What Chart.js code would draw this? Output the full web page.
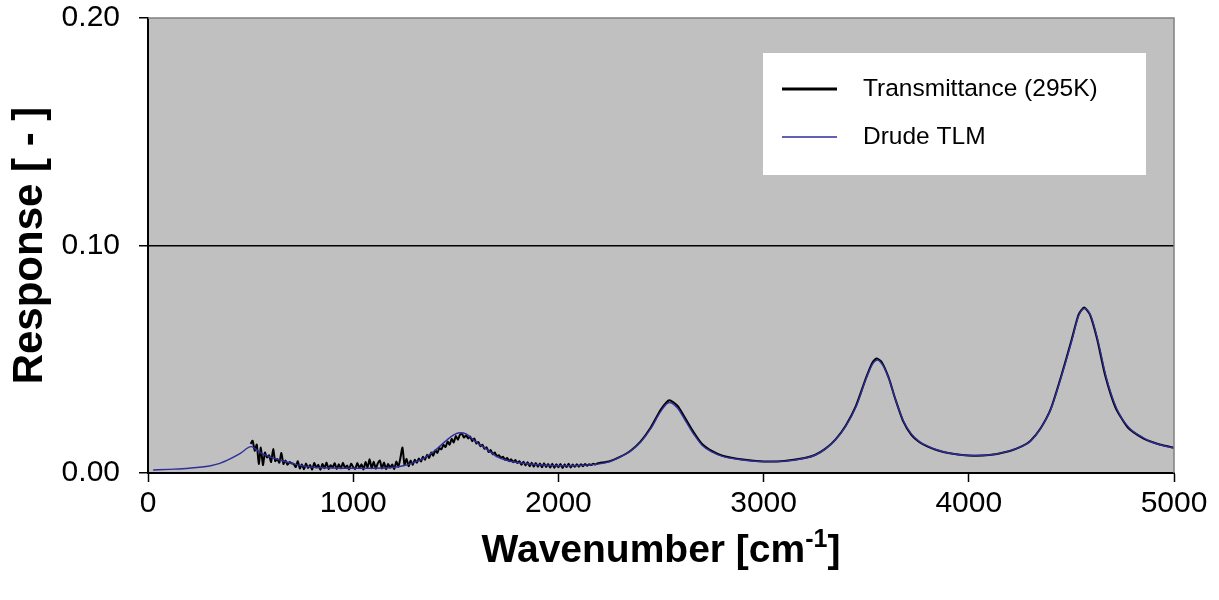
<!DOCTYPE html>
<html>
<head>
<meta charset="utf-8">
<script src="https://cdn.jsdelivr.net/npm/chart.js@4.4.1/dist/chart.umd.min.js"></script>
<style>
  html, body { margin: 0; padding: 0; background: #ffffff; }
  #wrap { width: 1219px; height: 600px; }
</style>
</head>
<body>
<div id="wrap"><canvas id="chart" width="1219" height="600"></canvas></div>
<script>
// Drude TLM fit (smooth)
const drudeWave = [25,100,200,300,350,400,450,502,550,600,
  650,700,750,800,850,900,1000,1100,1200,1250,
  1300,1350,1400,1450,1490,1520,1550,1600,1650,1700,
  1750,1800,1900,2000,2100,2200,2250,2300,2350,2400,
  2450,2500,2540,2580,2620,2660,2700,2750,2800,2900,
  3000,3100,3200,3250,3300,3350,3400,3450,3500,3530,
  3555,3580,3610,3640,3680,3720,3760,3800,3850,3900,
  4000,4100,4200,4260,4300,4350,4400,4450,4500,4535,
  4565,4595,4630,4670,4720,4780,4850,4900,4950,5000];
const drudeValue = [0.0013,0.0016,0.0021,0.0031,0.0042,0.0062,0.0086,0.0116,0.0088,0.0069,
  0.0055,0.0043,0.0032,0.0026,0.0023,0.0022,0.0021,0.0021,0.0025,0.0033,
  0.0048,0.0068,0.0100,0.0140,0.0168,0.0177,0.0172,0.0135,0.0105,0.0072,
  0.0055,0.0046,0.0036,0.0032,0.0033,0.0040,0.0050,0.0070,0.0095,0.0135,
  0.0195,0.0272,0.0310,0.0286,0.0228,0.0170,0.0122,0.0092,0.0073,0.0057,
  0.0050,0.0052,0.0065,0.0078,0.0105,0.0145,0.0205,0.0290,0.0415,0.0478,
  0.0497,0.0475,0.0415,0.0330,0.0232,0.0172,0.0138,0.0118,0.0100,0.0088,
  0.0077,0.0079,0.0097,0.0118,0.0140,0.0195,0.0280,0.0420,0.0575,0.0690,
  0.0723,0.0690,0.0580,0.0420,0.0285,0.0200,0.0155,0.0133,0.0120,0.0110];

// measured transmittance (295K), noisy below ~2200
const transWave = [500,510,520,530,540,550,560,570,580,590,600,610,620,630,640,650,660,670,680,690,700,
  710,720,730,740,750,760,770,780,790,800,810,820,830,840,850,860,870,880,890,900,
  910,920,930,940,950,960,970,980,990,1000,
  1010,1020,1030,1040,1050,1060,1070,1080,1090,1100,1110,1120,1130,1140,1150,1160,1170,1180,1190,1200,
  1210,1220,1230,1240,1250,1260,1270,1280,1290,1300,
  1310,1320,1330,1340,1350,1360,1370,1380,1390,1400,1410,1420,1430,1440,1450,1460,1470,1480,1490,1500,
  1510,1520,1530,1540,1550,
  1560,1570,1580,1590,1600,1610,1620,1630,1640,1650,1660,1670,1680,1690,1700,1710,1720,1730,1740,1750,
  1760,1770,1780,1790,1800,
  1810,1820,1830,1840,1850,1860,1870,1880,1890,1900,1910,1920,1930,1940,1950,1960,1970,1980,1990,2000,
  2010,2020,2030,2040,2050,2060,2070,2080,2090,2100,2110,2120,2130,2140,2150,2160,2170,2180,2190,2200,
  2250,2300,2350,2400,2450,2500,2540,2580,2620,2660,2700,2750,2800,
  2900,3000,3100,3200,3250,3300,3350,3400,3450,3500,
  3530,3550,3575,3610,3640,3680,3720,3760,3800,3850,3900,
  4000,4100,4200,4260,4300,4350,4400,4450,4500,
  4535,4562,4590,4625,4665,4715,4775,4850,4900,4950,5000];
const transValue = [0.0128,0.0142,0.0098,0.0125,0.0040,0.0112,0.0035,0.0090,0.0068,0.0078,0.0048,0.0105,0.0052,0.0062,0.0045,0.0088,0.0040,0.0055,0.0036,0.0048,0.0042,
  0.0040,0.0026,0.0052,0.0020,0.0038,0.0016,0.0042,0.0022,0.0035,0.0015,0.0044,0.0024,0.0036,0.0014,0.0040,0.0021,0.0046,0.0018,0.0034,0.0025,
  0.0043,0.0017,0.0038,0.0020,0.0045,0.0023,0.0033,0.0016,0.0041,0.0026,
  0.0018,0.0044,0.0022,0.0039,0.0016,0.0048,0.0025,0.0060,0.0021,0.0050,0.0019,0.0043,0.0055,0.0020,0.0046,0.0017,0.0040,0.0023,0.0037,0.0018,
  0.0050,0.0028,0.0066,0.0112,0.0036,0.0062,0.0030,0.0055,0.0035,0.0058,
  0.0045,0.0064,0.0050,0.0072,0.0058,0.0080,0.0066,0.0090,0.0076,0.0100,0.0088,0.0110,0.0104,0.0124,0.0114,0.0138,0.0124,0.0150,0.0134,0.0162,
  0.0146,0.0168,0.0172,0.0156,0.0166,
  0.0152,0.0160,0.0140,0.0152,0.0130,0.0136,0.0118,0.0124,0.0106,0.0113,0.0092,0.0101,0.0082,0.0090,0.0074,0.0078,0.0066,0.0072,0.0058,0.0066,
  0.0052,0.0060,0.0047,0.0057,0.0044,
  0.0052,0.0036,0.0050,0.0033,0.0047,0.0030,0.0045,0.0028,0.0044,0.0027,0.0042,0.0025,0.0043,0.0026,0.0040,0.0024,0.0041,0.0023,0.0039,0.0025,
  0.0040,0.0022,0.0038,0.0026,0.0041,0.0024,0.0037,0.0027,0.0039,0.0028,0.0038,0.0030,0.0040,0.0032,0.0039,0.0035,0.0041,0.0037,0.0042,0.0044,
  0.0052,0.0071,0.0097,0.0138,0.0200,0.0280,0.0320,0.0296,0.0238,0.0178,0.0128,0.0096,0.0076,
  0.0059,0.0051,0.0053,0.0066,0.0079,0.0106,0.0147,0.0208,0.0295,0.0420,
  0.0485,0.0503,0.0488,0.0418,0.0330,0.0228,0.0168,0.0135,0.0116,0.0099,0.0088,
  0.0077,0.0079,0.0097,0.0118,0.0141,0.0197,0.0283,0.0425,0.0582,
  0.0696,0.0728,0.0697,0.0590,0.0428,0.0288,0.0200,0.0152,0.0134,0.0121,0.0111];

const xTicks = [0, 1000, 2000, 3000, 4000, 5000];
const yTicks = [0, 0.10, 0.20];
const seriesLabels = ['Transmittance (295K)', 'Drude TLM'];

const FONT = '"Liberation Sans", Arial, sans-serif';
const toPoints = (xs, ys) => xs.map((x, i) => ({ x: x, y: ys[i] }));

// plot background, grey frame, legend box and x title with superscript
const decor = {
  id: 'decor',
  beforeDraw(chart) {
    const a = chart.chartArea, ctx = chart.ctx;
    ctx.save();
    ctx.fillStyle = '#c0c0c0';
    ctx.fillRect(a.left, a.top, a.right - a.left, a.bottom - a.top);
    ctx.restore();
  },
  afterDraw(chart) {
    const a = chart.chartArea, ctx = chart.ctx;
    ctx.save();
    // top / right frame
    ctx.strokeStyle = '#808080';
    ctx.lineWidth = 1.5;
    ctx.beginPath();
    ctx.moveTo(a.left, a.top);
    ctx.lineTo(a.right, a.top);
    ctx.lineTo(a.right, a.bottom);
    ctx.stroke();

    // legend
    const lx = a.left + 615, ly = a.top + 35;
    ctx.fillStyle = '#ffffff';
    ctx.fillRect(lx, ly, 383, 122);
    const ds = chart.data.datasets;
    const rows = [ly + 36, ly + 84];
    const widths = [3, 1.5];
    ds.forEach((d, i) => {
      ctx.strokeStyle = d.borderColor;
      ctx.lineWidth = widths[i];
      ctx.beginPath();
      ctx.moveTo(lx + 19, rows[i]);
      ctx.lineTo(lx + 74, rows[i]);
      ctx.stroke();
      ctx.fillStyle = '#000';
      ctx.font = '24.5px ' + FONT;
      ctx.textBaseline = 'middle';
      ctx.textAlign = 'left';
      ctx.fillText(d.label, lx + 100, rows[i]);
    });

    // x axis title: Wavenumber [cm-1]
    const cx = (a.left + a.right) / 2, by = 562;
    const big = 'bold 39px ' + FONT, small = 'bold 25px ' + FONT;
    ctx.font = big;
    const w1 = ctx.measureText('Wavenumber [cm').width;
    const w3 = ctx.measureText(']').width;
    ctx.font = small;
    const w2 = ctx.measureText('-1').width;
    let x = cx - (w1 + w2 + w3) / 2;
    ctx.fillStyle = '#000';
    ctx.textBaseline = 'alphabetic';
    ctx.textAlign = 'left';
    ctx.font = big;
    ctx.fillText('Wavenumber [cm', x, by);
    x += w1;
    ctx.font = small;
    ctx.fillText('-1', x, by - 15);
    x += w2;
    ctx.font = big;
    ctx.fillText(']', x, by);
    ctx.restore();
  }
};

new Chart(document.getElementById('chart'), {
  type: 'line',
  data: {
    datasets: [
      {
        label: seriesLabels[0],
        data: toPoints(transWave, transValue),
        borderColor: '#000000',
        borderWidth: 2,
        pointRadius: 0,
        tension: 0.2,
        order: 2
      },
      {
        label: seriesLabels[1],
        data: toPoints(drudeWave, drudeValue),
        borderColor: '#2e2e9a',
        borderWidth: 1.4,
        pointRadius: 0,
        cubicInterpolationMode: 'monotone',
        order: 1
      }
    ]
  },
  options: {
    responsive: false,
    animation: false,
    devicePixelRatio: 1,
    layout: { padding: { top: 18, right: 45, left: 0, bottom: 0 } },
    plugins: { legend: { display: false }, tooltip: { enabled: false } },
    scales: {
      x: {
        type: 'linear',
        min: 0, max: 5000,
        afterBuildTicks: s => { s.ticks = xTicks.map(v => ({ value: v })); },
        afterFit: s => { s.height = 127; },
        grid: { drawOnChartArea: false, tickLength: 9, tickColor: '#000', tickWidth: 1.5 },
        border: { color: '#000', width: 2 },
        ticks: { color: '#000', font: { family: FONT, size: 30 }, padding: 4, maxRotation: 0,
          callback: v => String(v) }
      },
      y: {
        min: 0, max: 0.2,
        afterBuildTicks: s => { s.ticks = yTicks.map(v => ({ value: v })); },
        afterFit: s => { s.width = 148; s.paddingTop = 0; s.paddingBottom = 0; },
        grid: {
          color: c => (c.tick && Math.abs(c.tick.value - 0.1) < 1e-6) ? '#000' : 'rgba(0,0,0,0)',
          lineWidth: 1.5,
          tickLength: 9, tickColor: '#000', tickWidth: 1.5
        },
        border: { color: '#000', width: 2 },
        ticks: { color: '#000', font: { family: FONT, size: 30 }, padding: 19,
          callback: v => v.toFixed(2) },
        title: { display: true, text: 'Response [ - ]', color: '#000',
          font: { family: FONT, size: 42, weight: 'bold' }, padding: { top: 5, bottom: 0 } }
      }
    }
  },
  plugins: [decor]
});
</script>
</body>
</html>
